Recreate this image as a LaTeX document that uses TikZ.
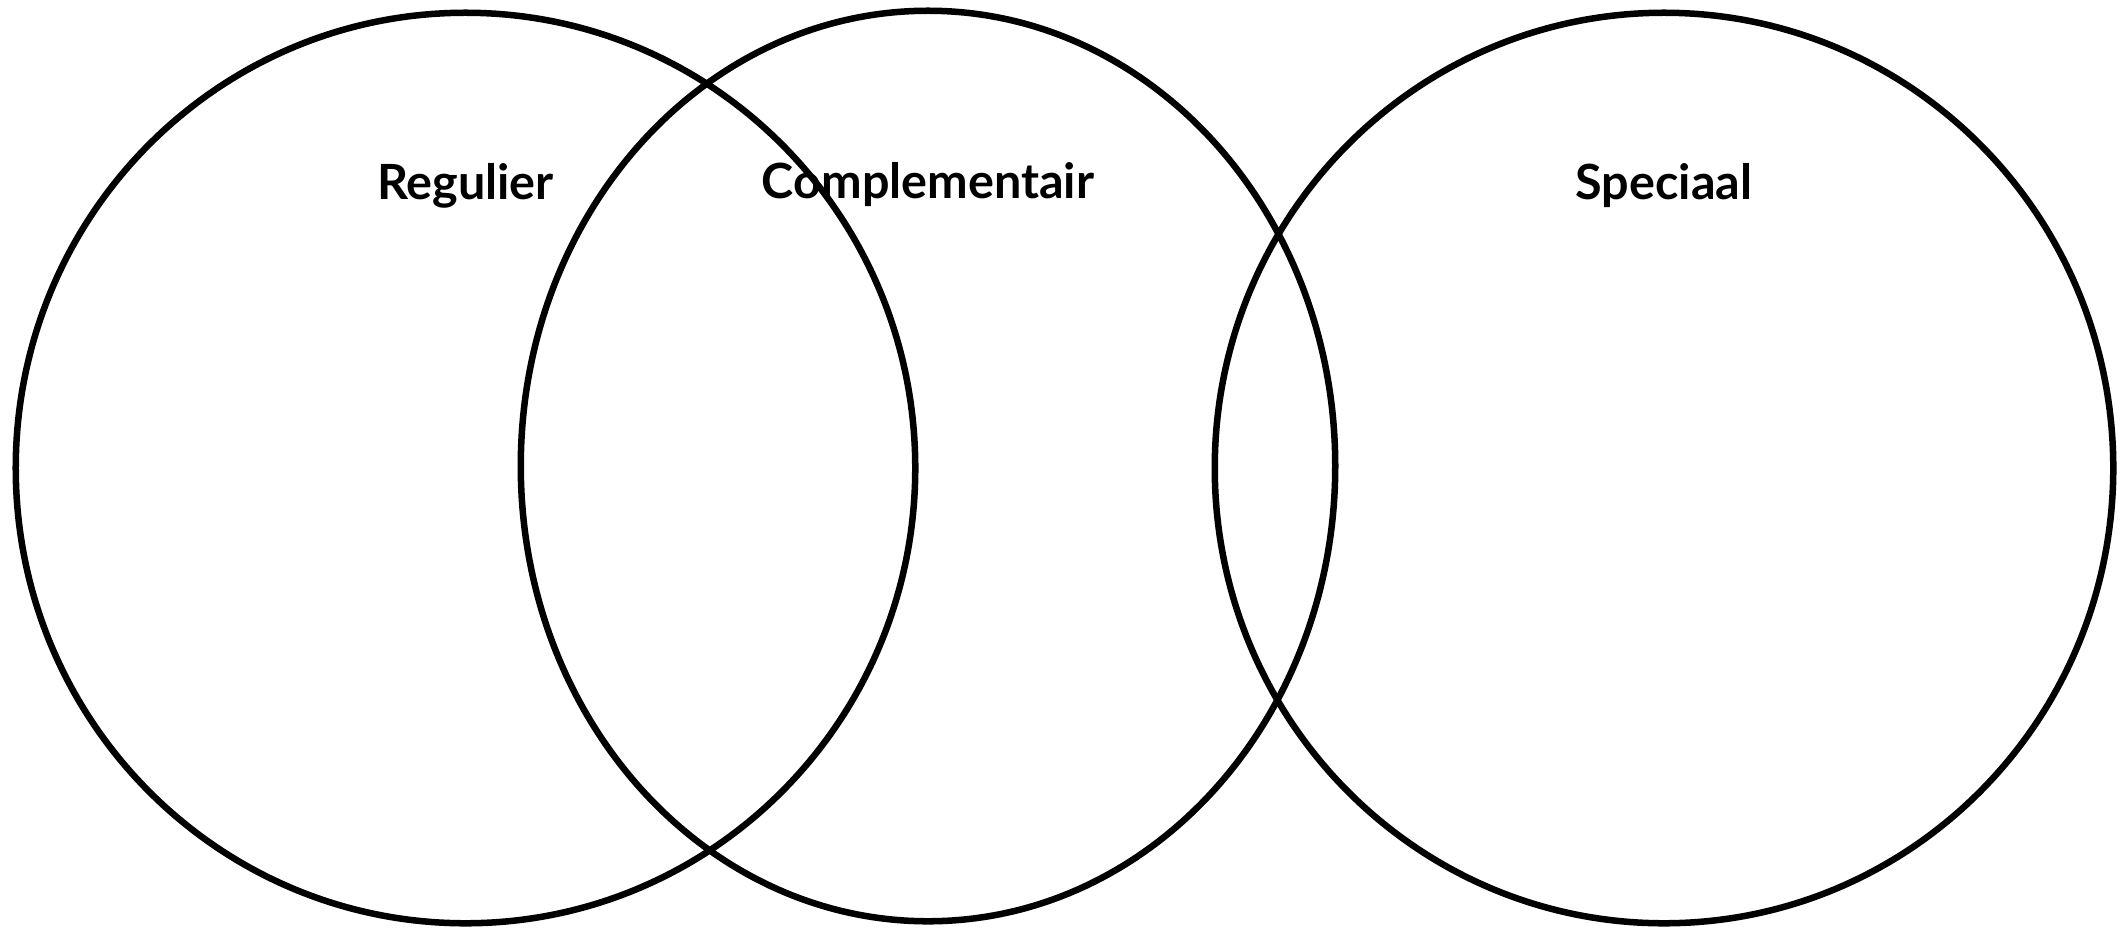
\documentclass[tikz,border=0pt]{standalone}
\usepackage{fontspec}
\setmainfont{Lato}
\usepackage{tikz}
\usetikzlibrary{shapes.geometric}
\tikzset{
  set/.style={
    ellipse, draw=black, line width=1.85pt, inner sep=0pt, fill=none
  },
  set label/.style={
    font=\fontsize{13.8}{16}\selectfont\bfseries, anchor=base, inner sep=0pt
  },
}

\begin{document}
\begin{tikzpicture}[x=0.01cm, y=-0.01cm]
  \useasboundingbox (0,0) rectangle (2122,927);
  % the three sets
  \node[set, minimum width=8.99cm, minimum height=9.10cm] (R) at (465.5,468) {};
  \node[set, minimum width=8.14cm, minimum height=9.10cm] (C) at (928,466) {};
  \node[set, minimum width=8.98cm, minimum height=9.10cm] (S) at (1664,468) {};
  % labels
  \node[set label] (Rl) at (465.5,199) {Regulier};
  \node[set label] (Cl) at (928,198) {Complementair};
  \node[set label] (Sl) at (1664,199) {Speciaal};
\end{tikzpicture}
\end{document}
